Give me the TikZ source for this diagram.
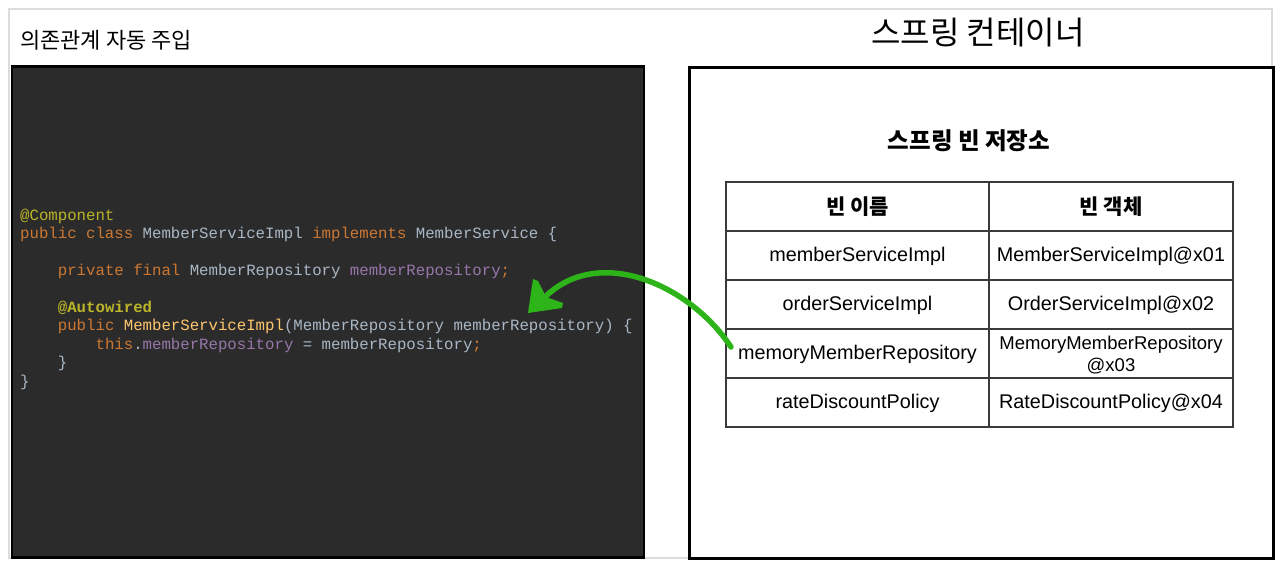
\documentclass[tikz,border=0pt]{standalone}
\usepackage{fontspec}
\setmainfont{Liberation Sans}
\newfontfamily\kr{Noto Sans CJK KR}
\newfontfamily\codefont{Liberation Mono}
\definecolor{codebg}{HTML}{2B2B2B}
\definecolor{kw}{HTML}{CC7832}
\definecolor{ann}{HTML}{BBB529}
\definecolor{plain}{HTML}{A9B7C6}
\definecolor{fld}{HTML}{9876AA}
\definecolor{mth}{HTML}{FFC66D}
\definecolor{arrowgreen}{RGB}{45,180,25}
\definecolor{frame}{HTML}{DCDCDC}
\definecolor{gridc}{HTML}{3A3A3A}
\tikzset{
  codeline/.style={anchor=base west, inner sep=0pt, font=\codefont\fontsize{15.7}{18}\selectfont, text=plain},
  cell/.style={anchor=center, inner sep=0pt, font=\fontsize{19.8}{22}\selectfont, align=center},
  headcell/.style={anchor=center, inner sep=0pt, font=\kr\bfseries\fontsize{21}{23}\selectfont},
  gridline/.style={draw=gridc, line width=1.3pt},
}
\begin{document}
\begin{tikzpicture}[x=1pt,y=-1pt]
\useasboundingbox (0,0) rectangle (1280,566);
\fill[white] (0,0) rectangle (1280,566);
\draw[frame, line width=1.5pt] (9,9) rectangle (1272,558);

% titles
\node[anchor=west, inner sep=0pt, font=\kr\fontsize{22}{24}\selectfont] (lefttitle) at (20,40) {의존관계 자동 주입};
\node[anchor=center, inner sep=0pt, font=\kr\fontsize{32}{34}\selectfont] (righttitle) at (978,33) {스프링 컨테이너};

% code panel
\node[draw=black, line width=2.5pt, fill=codebg, minimum width=632pt, minimum height=491pt, anchor=north west, inner sep=0pt] (codepanel) at (10.5,65) {};

\node[codeline] (c1) at (20,220) {\textcolor{ann}{@Component}};
\node[codeline] (c2) at (20,238.5) {\textcolor{kw}{public class} MemberServiceImpl \textcolor{kw}{implements} MemberService \{};
\node[codeline] (c3) at (57.7,275) {\textcolor{kw}{private final} MemberRepository \textcolor{fld}{memberRepository}\textcolor{kw}{;}};
\node[codeline] (c4) at (57.7,312) {\textcolor{ann}{\bfseries @Autowired}};
\node[codeline] (c5) at (57.7,330.5) {\textcolor{kw}{public} \textcolor{mth}{MemberServiceImpl}(MemberRepository memberRepository) \{};
\node[codeline] (c6) at (95.4,349) {\textcolor{kw}{this}.\textcolor{fld}{memberRepository} = memberRepository\textcolor{kw}{;}};
\node[codeline] (c7) at (57.7,367.5) {\}};
\node[codeline] (c8) at (20,386) {\}};

% container box
\node[draw=black, line width=2.5pt, fill=white, minimum width=584pt, minimum height=491pt, anchor=north west, inner sep=0pt] (container) at (688,66) {};

\node[anchor=center, inner sep=0pt, font=\kr\bfseries\fontsize{23.5}{25}\selectfont] (storetitle) at (969,141) {스프링 빈 저장소};

% table grid
\draw[gridline, line width=2pt] (726,182) rectangle (1233,427);
\draw[gridline, line width=2.2pt] (726,231) -- (1233,231);
\draw[gridline] (726,280) -- (1233,280);
\draw[gridline] (726,329) -- (1233,329);
\draw[gridline] (726,378) -- (1233,378);
\draw[gridline] (989,182) -- (989,427);

\node[headcell] (h1) at (857.5,207) {빈 이름};
\node[headcell] (h2) at (1111,207) {빈 객체};

\node[cell] (n1) at (857.5,256) {memberServiceImpl};
\node[cell] (o1) at (1111,256) {MemberServiceImpl@x01};
\node[cell] (n2) at (857.5,305) {orderServiceImpl};
\node[cell] (o2) at (1111,305) {OrderServiceImpl@x02};
\node[cell] (n3) at (857.5,354) {memoryMemberRepository};
\node[cell, font=\fontsize{18.5}{22}\selectfont] (o3) at (1111,355) {MemoryMemberRepository\\@x03};
\node[cell] (n4) at (857.5,403) {rateDiscountPolicy};
\node[cell] (o4) at (1111,403) {RateDiscountPolicy@x04};

% green arrow
\coordinate (arrstart) at (731,347);
\coordinate (arrend) at (546,296);
\coordinate (arrtip) at (528,313);
\draw[arrowgreen, line width=5.5pt, line cap=round] (arrstart) .. controls (690,285) and (600,245) .. (arrend);
\fill[arrowgreen] (arrtip) -- (533,279) -- (538,281) -- (546,297) -- (563,303) -- (562,308) -- cycle;
\end{tikzpicture}
\end{document}
